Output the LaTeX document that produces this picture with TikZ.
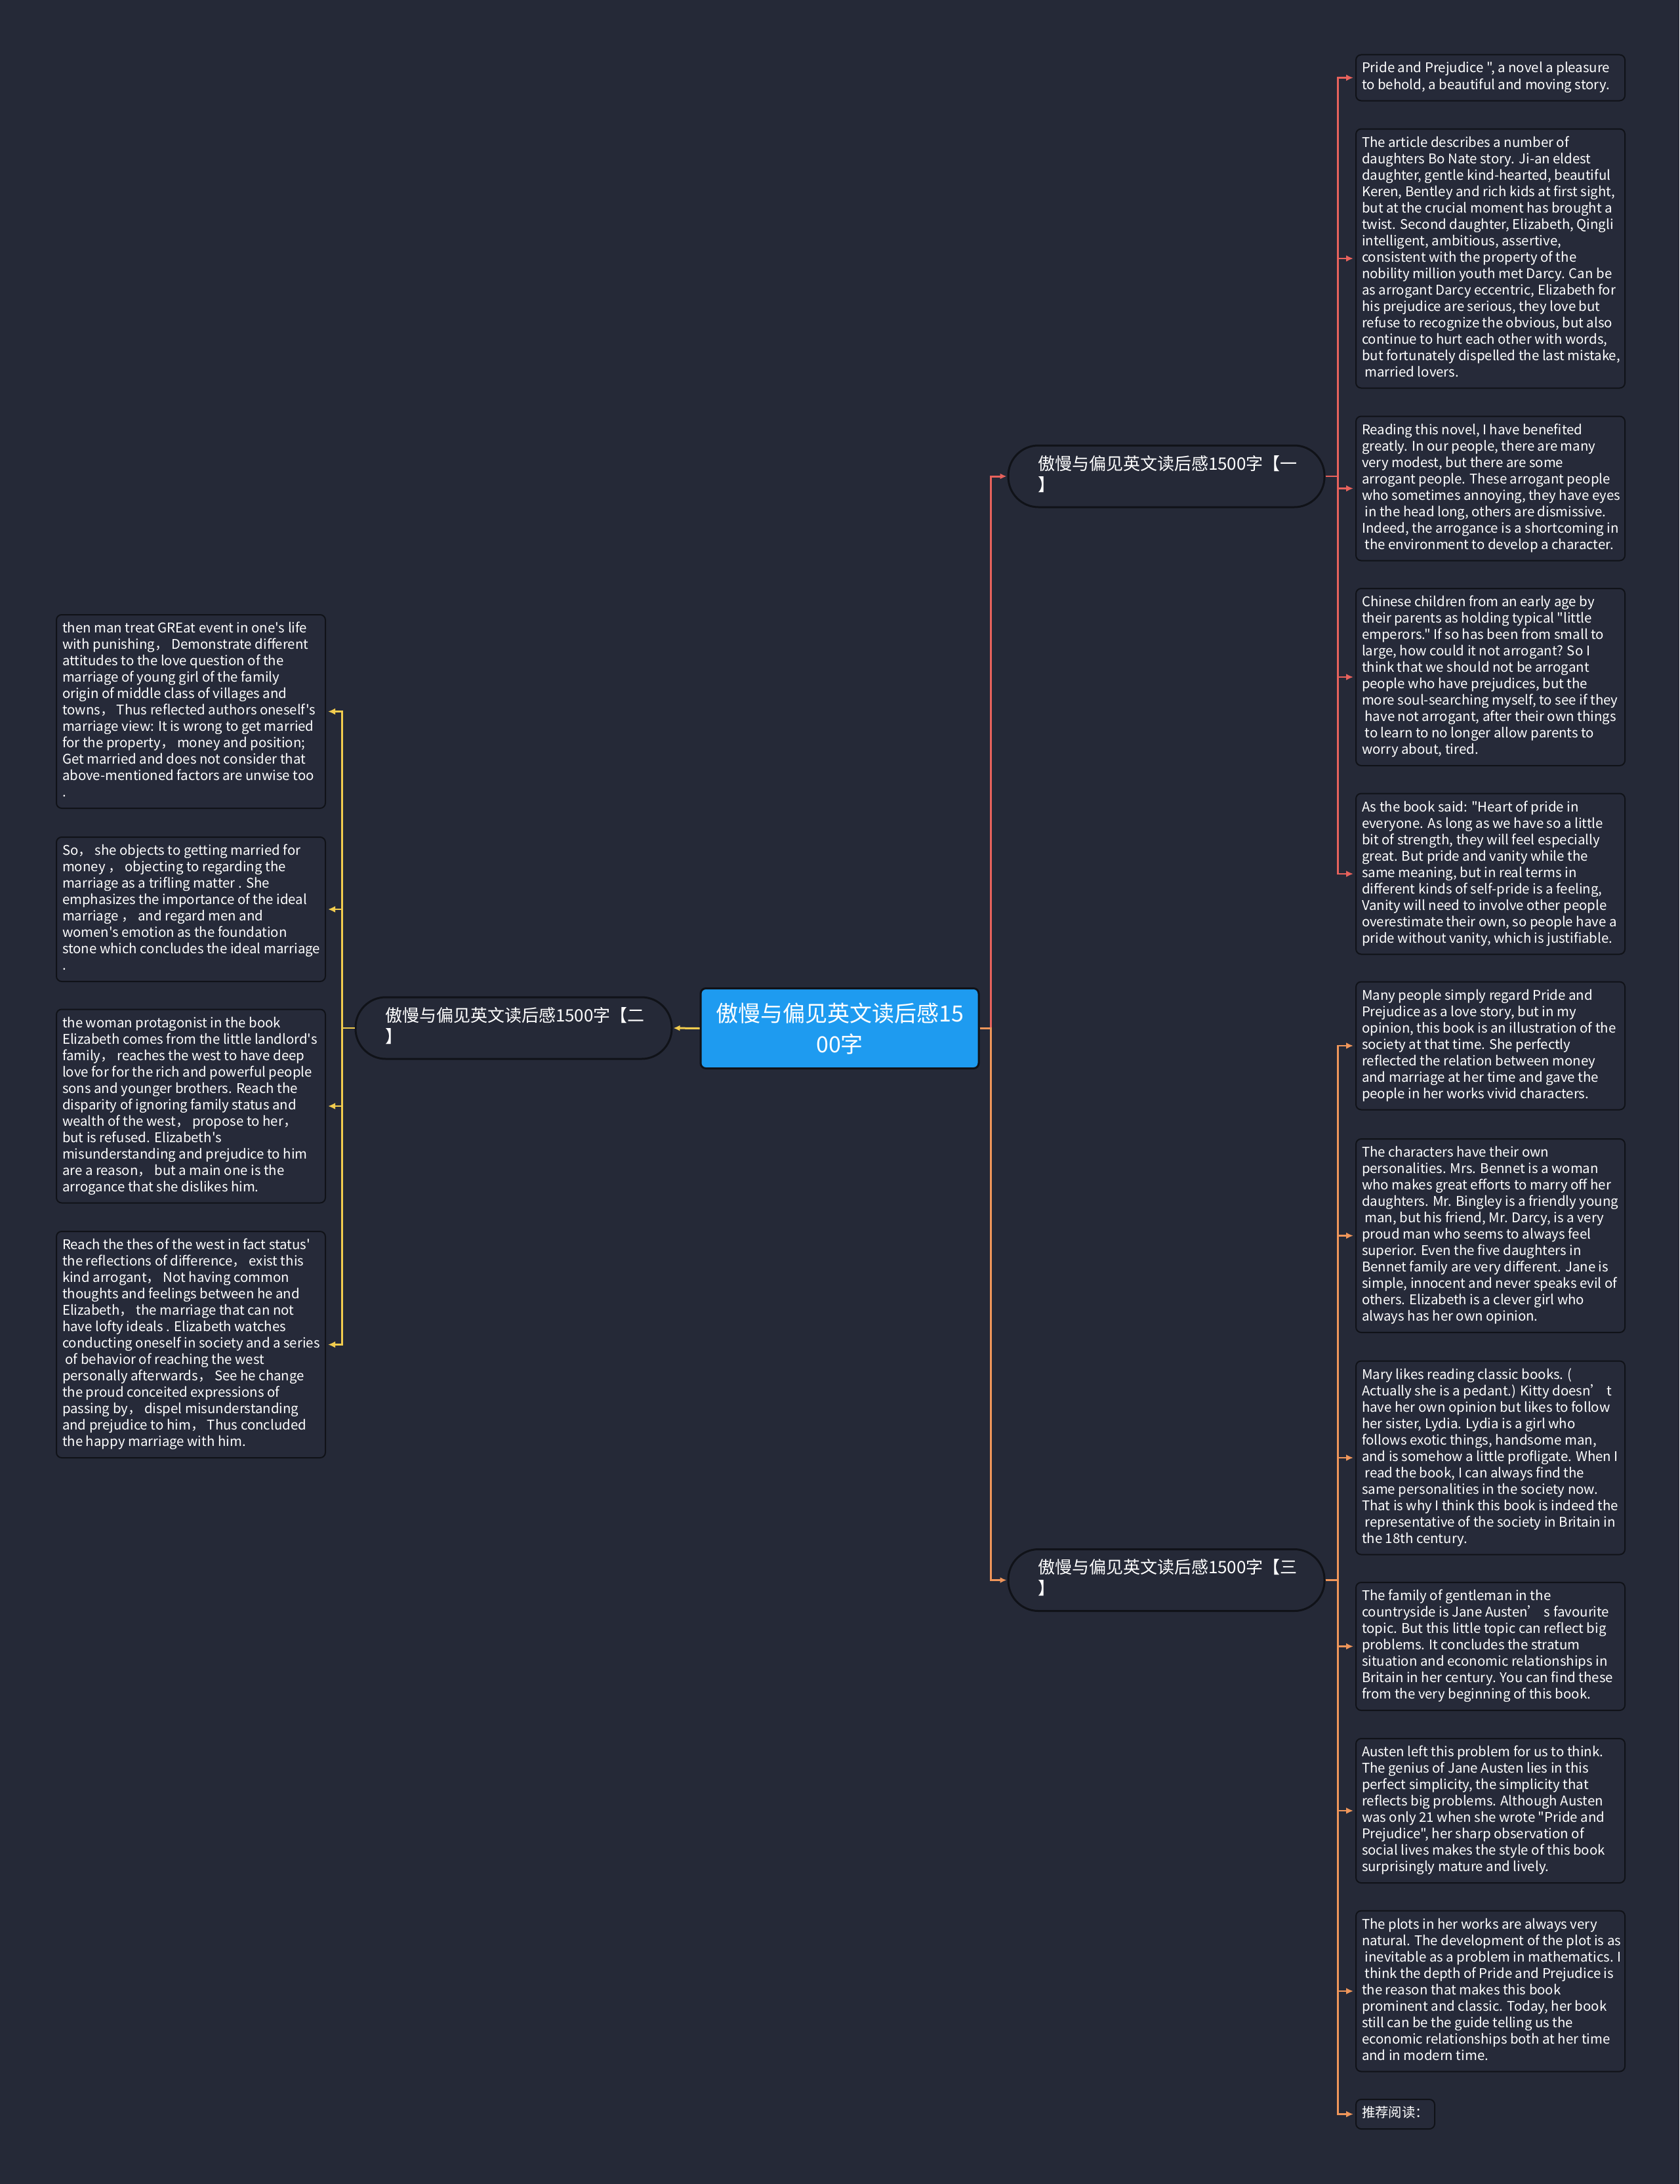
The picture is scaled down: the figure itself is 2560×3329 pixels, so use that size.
\documentclass[tikz,border=0pt]{standalone}
\usepackage{fontspec}
\newfontfamily\mf{Noto Sans CJK SC}
\usetikzlibrary{arrows.meta}
\definecolor{bg}{RGB}{37,41,55}
\definecolor{leaffill}{RGB}{38,42,57}
\definecolor{edgeblk}{RGB}{16,18,24}
\definecolor{rootblue}{RGB}{30,155,240}
\definecolor{cred}{RGB}{232,98,92}
\definecolor{corange}{RGB}{240,150,90}
\definecolor{cyellow}{RGB}{242,204,78}
\newcommand\tb[2]{\makebox[#1][l]{\begin{tabular}{@{}l@{}}#2\end{tabular}}}
\begin{document}
\begin{tikzpicture}[x=0.5pt,y=-0.5pt,
  leaf/.style={draw=edgeblk, line width=1pt, fill=leaffill, rounded corners=4pt,
    inner xsep=4.5pt, inner ysep=5pt, text=white, anchor=west,
    font=\mf\fontsize{10.2}{12.5}\selectfont},
  branch/.style={draw=edgeblk, line width=1.5pt, fill=bg, rounded corners=23pt,
    minimum width=241pt, minimum height=47pt, inner sep=0pt, text=white,
    font=\mf\fontsize{13}{16}\selectfont},
  rootbox/.style={draw=edgeblk, line width=1.5pt, fill=rootblue, rounded corners=4pt,
    minimum width=212pt, minimum height=61pt, inner sep=0pt, text=white, align=center,
    font=\mf\fontsize{17}{23.5}\selectfont},
  conn/.style={line width=1.5pt, -{Latex[length=5pt,width=4.5pt]}, shorten >=0.5pt},
  lconn/.style={line width=1.1pt, -{Latex[length=5.5pt,width=5pt]}, shorten >=1.5pt},
]
\useasboundingbox (0,0) rectangle (2560,3329);
\fill[bg] (0,0) rectangle (2560,3329);

% root and branches
\node[rootbox] (root) at (1280,1567.5) {傲慢与偏见英文读后感15\\00字};
\node[branch] (b1) at (1778,726) {\tb{196pt}{傲慢与偏见英文读后感1500字【一\\】}};
\node[branch] (b2) at (783,1567) {\tb{196pt}{傲慢与偏见英文读后感1500字【二\\】}};
\node[branch] (b3) at (1778,2408.5) {\tb{196pt}{傲慢与偏见英文读后感1500字【三\\】}};

% right leaves, branch 1
\node[leaf] (r1) at (2066,118.5) {\tb{196pt}{Pride and Prejudice ", a novel a pleasure\\to behold, a beautiful and moving story.}};
\node[leaf] (r2) at (2066,394) {\tb{196pt}{The article describes a number of\\daughters Bo Nate story. Ji-an eldest\\daughter, gentle kind-hearted, beautiful\\Keren, Bentley and rich kids at first sight,\\but at the crucial moment has brought a\\twist. Second daughter, Elizabeth, Qingli\\intelligent, ambitious, assertive,\\consistent with the property of the\\nobility million youth met Darcy. Can be\\as arrogant Darcy eccentric, Elizabeth for\\his prejudice are serious, they love but\\refuse to recognize the obvious, but also\\continue to hurt each other with words,\\but fortunately dispelled the last mistake,\\\ married lovers.}};
\node[leaf] (r3) at (2066,744.5) {\tb{196pt}{Reading this novel, I have benefited\\greatly. In our people, there are many\\very modest, but there are some\\arrogant people. These arrogant people\\who sometimes annoying, they have eyes\\\ in the head long, others are dismissive.\\Indeed, the arrogance is a shortcoming in\\\ the environment to develop a character.}};
\node[leaf] (r4) at (2066,1032) {\tb{196pt}{Chinese children from an early age by\\their parents as holding typical "little\\emperors." If so has been from small to\\large, how could it not arrogant? So I\\think that we should not be arrogant\\people who have prejudices, but the\\more soul-searching myself, to see if they\\\ have not arrogant, after their own things\\\ to learn to no longer allow parents to\\worry about, tired.}};
\node[leaf] (r5) at (2066,1332) {\tb{196pt}{As the book said: "Heart of pride in\\everyone. As long as we have so a little\\bit of strength, they will feel especially\\great. But pride and vanity while the\\same meaning, but in real terms in\\different kinds of self-pride is a feeling,\\Vanity will need to involve other people\\overestimate their own, so people have a\\pride without vanity, which is justifiable.}};

% right leaves, branch 3
\node[leaf] (r6) at (2066,1594) {\tb{196pt}{Many people simply regard Pride and\\Prejudice as a love story, but in my\\opinion, this book is an illustration of the\\society at that time. She perfectly\\reflected the relation between money\\and marriage at her time and gave the\\people in her works vivid characters.}};
\node[leaf] (r7) at (2066,1883.5) {\tb{196pt}{The characters have their own\\personalities. Mrs. Bennet is a woman\\who makes great efforts to marry off her\\daughters. Mr. Bingley is a friendly young\\\ man, but his friend, Mr. Darcy, is a very\\proud man who seems to always feel\\superior. Even the five daughters in\\Bennet family are very different. Jane is\\simple, innocent and never speaks evil of\\others. Elizabeth is a clever girl who\\always has her own opinion.}};
\node[leaf] (r8) at (2066,2222) {\tb{196pt}{Mary likes reading classic books. (\\Actually she is a pedant.) Kitty doesn’ t\\have her own opinion but likes to follow\\her sister, Lydia. Lydia is a girl who\\follows exotic things, handsome man,\\and is somehow a little profligate. When I\\\ read the book, I can always find the\\same personalities in the society now.\\That is why I think this book is indeed the\\\ representative of the society in Britain in\\the 18th century.}};
\node[leaf] (r9) at (2066,2509.5) {\tb{196pt}{The family of gentleman in the\\countryside is Jane Austen’ s favourite\\topic. But this little topic can reflect big\\problems. It concludes the stratum\\situation and economic relationships in\\Britain in her century. You can find these\\from the very beginning of this book.}};
\node[leaf] (r10) at (2066,2760) {\tb{196pt}{Austen left this problem for us to think.\\The genius of Jane Austen lies in this\\perfect simplicity, the simplicity that\\reflects big problems. Although Austen\\was only 21 when she wrote "Pride and\\Prejudice", her sharp observation of\\social lives makes the style of this book\\surprisingly mature and lively.}};
\node[leaf] (r11) at (2066,3035) {\tb{196pt}{The plots in her works are always very\\natural. The development of the plot is as\\\ inevitable as a problem in mathematics. I\\\ think the depth of Pride and Prejudice is\\the reason that makes this book\\prominent and classic. Today, her book\\still can be the guide telling us the\\economic relationships both at her time\\and in modern time.}};
\node[leaf] (r12) at (2066,3222.5) {\tb{51pt}{推荐阅读：}};

% left leaves
\node[leaf] (l1) at (85,1084.5) {\tb{196pt}{then man treat GREat event in one's life\\with punishing， Demonstrate different\\attitudes to the love question of the\\marriage of young girl of the family\\origin of middle class of villages and\\towns， Thus reflected authors oneself's\\marriage view: It is wrong to get married\\for the property， money and position;\\Get married and does not consider that\\above-mentioned factors are unwise too\\.}};
\node[leaf] (l2) at (85,1386) {\tb{196pt}{So， she objects to getting married for\\money ， objecting to regarding the\\marriage as a trifling matter . She\\emphasizes the importance of the ideal\\marriage ， and regard men and\\women's emotion as the foundation\\stone which concludes the ideal marriage\\.}};
\node[leaf] (l3) at (85,1686) {\tb{196pt}{the woman protagonist in the book\\Elizabeth comes from the little landlord's\\family， reaches the west to have deep\\love for for the rich and powerful people\\sons and younger brothers. Reach the\\disparity of ignoring family status and\\wealth of the west， propose to her，\\but is refused. Elizabeth's\\misunderstanding and prejudice to him\\are a reason， but a main one is the\\arrogance that she dislikes him.}};
\node[leaf] (l4) at (85,2049.5) {\tb{196pt}{Reach the thes of the west in fact status'\\the reflections of difference， exist this\\kind arrogant， Not having common\\thoughts and feelings between he and\\Elizabeth， the marriage that can not\\have lofty ideals . Elizabeth watches\\conducting oneself in society and a series\\\ of behavior of reaching the west\\personally afterwards， See he change\\the proud conceited expressions of\\passing by， dispel misunderstanding\\and prejudice to him， Thus concluded\\the happy marriage with him.}};

% connectors root -> branches
\draw[cred, conn] (root.east) -- ++(17,0) |- (b1.west);
\draw[corange, conn] (root.east) -- ++(17,0) |- (b3.west);
\draw[cyellow, conn] (root.west) -- (b2.east);

% branch 1 -> leaves
\foreach \t in {r1,r2,r3,r4,r5}
  \draw[cred, lconn] (b1.east) -- ++(19,0) |- (\t.west);
% branch 3 -> leaves
\foreach \t in {r6,r7,r8,r9,r10,r11,r12}
  \draw[corange, lconn] (b3.east) -- ++(19,0) |- (\t.west);
% branch 2 -> leaves
\foreach \t in {l1,l2,l3,l4}
  \draw[cyellow, lconn] (b2.west) -- ++(-19,0) |- (\t.east);
\end{tikzpicture}
\end{document}
